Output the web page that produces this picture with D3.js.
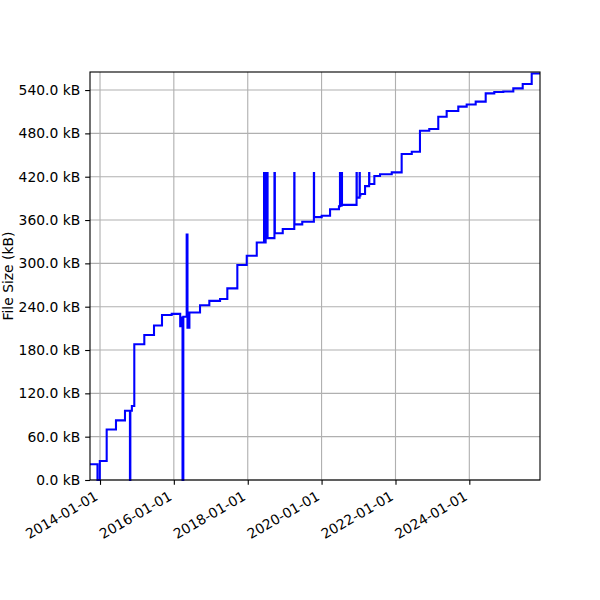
<!DOCTYPE html>
<html>
<head>
<meta charset="utf-8">
<script src="https://cdn.jsdelivr.net/npm/d3@7"></script>
<style>
  body { margin: 0; background: #fff; }
  svg text { font-family: "DejaVu Sans", sans-serif; }
</style>
</head>
<body>
<svg id="chart" width="600" height="600"></svg>
<script>
// commit dates and file size (kB) after each commit
let dates = [
    "2013-09-24", "2013-12-07", "2013-12-30", "2014-03-08", "2014-06-08", "2014-09-05",
    "2014-10-24", "2014-10-28", "2014-11-12", "2014-12-06", "2015-03-15", "2015-06-19",
    "2015-09-06", "2015-12-11", "2016-03-04", "2016-03-14", "2016-03-27", "2016-04-04",
    "2016-05-07", "2016-05-15", "2016-06-03", "2016-09-16", "2016-12-17", "2017-04-02",
    "2017-06-13", "2017-09-20", "2017-12-22", "2018-03-31",
    "2018-06-11", "2018-06-15", "2018-06-19", "2018-06-23", "2018-06-27", "2018-07-01",
    "2018-07-05", "2018-07-09", "2018-07-13", "2018-07-16",
    "2018-09-22", "2018-09-26", "2018-12-13", "2019-04-06", "2019-04-08", "2019-06-24",
    "2019-10-17", "2019-10-19", "2020-01-02", "2020-03-25", "2020-06-21",
    "2020-07-01", "2020-07-05", "2020-07-09", "2020-07-13", "2020-07-17", "2020-07-21",
    "2020-12-12", "2020-12-14", "2021-01-11", "2021-01-13", "2021-01-19", "2021-03-06",
    "2021-04-15", "2021-04-17", "2021-06-06", "2021-08-01", "2021-11-25", "2022-03-03",
    "2022-06-11", "2022-08-31", "2022-12-01", "2023-02-28", "2023-05-22", "2023-09-14",
    "2023-12-06", "2024-03-04", "2024-06-11", "2024-09-04", "2024-12-02", "2025-03-11",
    "2025-06-12", "2025-09-09", "2025-11-30"
];
let sizes = [
    21.7, 0, 26.3, 70, 82.6, 96,
    0, 96, 102.5, 188, 200.8, 214,
    228.5, 230, 213, 225, 0, 226,
    340, 211, 232, 242, 248, 250.6,
    265.4, 297.7, 310.6, 329,
    425, 329, 425, 329, 425, 335,
    425, 335, 425, 335,
    425, 341.6, 347.5, 425, 354, 357.7,
    425, 364, 366, 375, 379,
    425, 380, 425, 380, 425, 381,
    425, 391, 425, 394, 396, 407,
    425, 410, 421, 423.5, 426, 451.4,
    454.6, 483.7, 486, 503, 511, 517,
    520, 524, 535.4, 537.2, 538, 542.3,
    548.3, 563, 563
];
let xTicks = ["2014-01-01", "2016-01-01", "2018-01-01", "2020-01-01", "2022-01-01", "2024-01-01"];
let yTicks = [0, 60, 120, 180, 240, 300, 360, 420, 480, 540];
let yLabel = "File Size (kB)";

let parseDate = d3.timeParse("%Y-%m-%d");
let data = dates.map((d, i) => ({date: parseDate(d), size: sizes[i]}));

let svg = d3.select("#chart");
let padding = {top: 72, right: 60, bottom: 120, left: 90};
let width = +svg.attr("width");
let height = +svg.attr("height");
let pt = 100 / 72;   // one point in px
let fontSize = 10 * pt;

let xScale = d3.scaleTime()
    .domain(d3.extent(data, d => d.date))
    .range([padding.left, width - padding.right]);
let yScale = d3.scaleLinear()
    .domain([0, 565])
    .range([height - padding.bottom, padding.top]);

// grid
svg.append("g")
    .selectAll("line")
    .data(xTicks.map(parseDate))
    .enter().append("line")
    .attr("x1", d => xScale(d)).attr("x2", d => xScale(d))
    .attr("y1", padding.top).attr("y2", height - padding.bottom)
    .attr("stroke", "#b0b0b0").attr("stroke-width", 0.8 * pt);
svg.append("g")
    .selectAll("line")
    .data(yTicks)
    .enter().append("line")
    .attr("x1", padding.left).attr("x2", width - padding.right)
    .attr("y1", d => yScale(d)).attr("y2", d => yScale(d))
    .attr("stroke", "#b0b0b0").attr("stroke-width", 0.8 * pt);

let line = d3.line()
    .x(d => xScale(d.date))
    .y(d => yScale(d.size))
    .curve(d3.curveStepAfter);

svg.append("path")
    .datum(data)
    .attr("d", line)
    .attr("fill", "none")
    .attr("stroke", "#0000ff")
    .attr("stroke-width", 1.5 * pt);

// axes
let xAxis = d3.axisBottom(xScale)
    .tickValues(xTicks.map(parseDate))
    .tickFormat(d3.timeFormat("%Y-%m-%d"))
    .tickSize(3.5 * pt)
    .tickPadding(3.5 * pt);
let gx = svg.append("g")
    .attr("transform", "translate(0," + (height - padding.bottom) + ")")
    .call(xAxis);
gx.selectAll("text")
    .style("text-anchor", "end")
    .attr("y", 0).attr("dy", 0)
    .attr("transform", "translate(-1.5,19) rotate(-30)");

let yAxis = d3.axisLeft(yScale)
    .tickValues(yTicks)
    .tickFormat(d => d3.format(".1f")(d) + " kB")
    .tickSize(3.5 * pt)
    .tickPadding(3.5 * pt);
let gy = svg.append("g")
    .attr("transform", "translate(" + padding.left + ",0)")
    .call(yAxis);

[gx, gy].forEach(g => {
    g.attr("font-size", fontSize).attr("font-family", null);
    g.select(".domain").remove();
    g.selectAll(".tick text").attr("fill", "#000");
    g.selectAll(".tick line").attr("stroke", "#000").attr("stroke-width", 0.8 * pt);
});

// frame
svg.append("rect")
    .attr("x", padding.left).attr("y", padding.top)
    .attr("width", width - padding.left - padding.right)
    .attr("height", height - padding.top - padding.bottom)
    .attr("fill", "none").attr("stroke", "#000").attr("stroke-width", 0.8 * pt);

svg.append("text")
    .attr("transform", "rotate(-90)")
    .attr("x", -(padding.top + (height - padding.top - padding.bottom) / 2))
    .attr("y", 12.5)
    .style("text-anchor", "middle")
    .attr("font-size", fontSize)
    .text(yLabel);
</script>
</body>
</html>
